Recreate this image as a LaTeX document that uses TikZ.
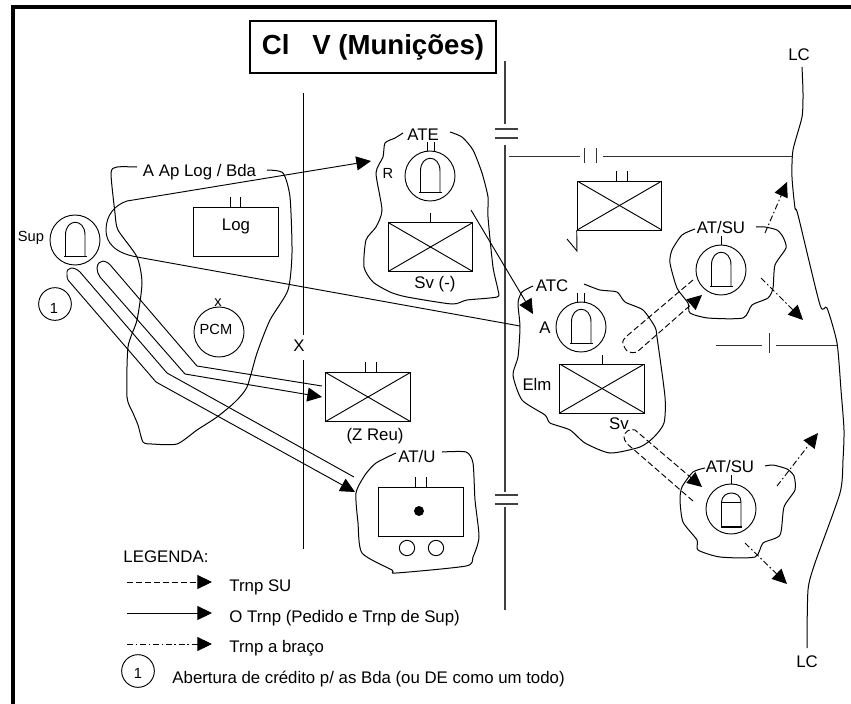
\documentclass[tikz,border=0pt]{standalone}
\usepackage{fontspec}
\setmainfont{Liberation Sans}
\usetikzlibrary{arrows.meta}
\begin{document}
\begin{tikzpicture}[
  x=0.75pt, y=-0.75pt,
  line width=0.7pt,
  font=\fontsize{12.6pt}{14pt}\selectfont,
  lbl/.style={inner sep=0pt, align=center},
  small/.style={lbl, font=\fontsize{11pt}{13pt}\selectfont},
  titlebox/.style={draw, line width=0.8pt, inner sep=0pt, minimum width=184.5pt,
    minimum height=39pt, font=\fontsize{20.7pt}{22pt}\selectfont\bfseries},
  unit/.style={draw, circle, inner sep=0pt, minimum size=37.5pt},
  numcirc/.style={draw, circle, inner sep=0pt, minimum size=24.5pt},
  wheel/.style={draw, circle, inner sep=0pt, minimum size=11.5pt},
  plainbox/.style={draw, inner sep=0pt, minimum width=63.5pt, minimum height=36.7pt},
  xbox/.style={plainbox, path picture={
    \draw (path picture bounding box.north west) -- (path picture bounding box.south east);
    \draw (path picture bounding box.north east) -- (path picture bounding box.south west);}},
  blob/.style={line width=0.75pt, smooth, tension=0.4},
  flow/.style={-{Triangle[length=11pt,width=10.5pt]}, line width=0.7pt},
  flowsu/.style={flow, dash pattern=on 4.5pt off 2.2pt},
  flowarm/.style={flow, dash pattern=on 4.5pt off 2pt on 1.2pt off 2pt},
  pics/shell/.style={code={
    \draw (-9.5,16) -- (-9.5,-5) .. controls (-9.5,-22) and (10,-22) .. (10,-5) -- (10,16);
    \draw[line width=1pt] (-11,16.5) -- (11.5,16.5);}},
  pics/shellb/.style={code={
    \draw (-9.5,18) -- (-9.5,-7) .. controls (-9,-19) and (10,-19) .. (10,-7) -- (10,18);
    \draw (-9.5,-7) -- (10,-7);
    \draw[line width=1pt] (-10,18) -- (10.5,18);}}
]
\useasboundingbox (0,0) rectangle (851,704);
% frame and title
\draw[line width=2.3pt] (13,704) -- (13,7) -- (851,7);
\node[titlebox] (title) at (373,47) {Cl\hspace{0.55em} V (Munições)};
% limits
\coordinate (xtop) at (303,93);
\coordinate (xmid) at (303,335);
\coordinate (xlow) at (303,360);
\coordinate (xend) at (303,549);
\draw (xtop) -- (xmid);
\draw (xlow) -- (xend);
\node[lbl] (xmark) at (299,346) {X};
\draw[black!75, line width=0.9pt] (505,61) -- (505,124);
\draw[black!75, line width=0.9pt] (505,145) -- (505,492);
\draw[black!75, line width=0.9pt] (505,507) -- (505,610);
\draw[black!75, line width=0.9pt] (495,129) -- (518,129) (495,138) -- (518,138);
\draw[black!75, line width=0.9pt] (495,495) -- (518,495) (495,504) -- (518,504);
% front line
\node[lbl] (lctop) at (799,55) {LC};
\node[lbl] (lcbot) at (807,662) {LC};
\draw[blob] plot coordinates {(802,67) (803,93) (802,117) (793,150) (792,177) (795,208)
  (798,215) (820,305) (827,308) (837,343) (841,390) (844,430) (843,460) (840,493)
  (815,563) (808,590) (807,648)};
% cross lines
\draw[black!80] (509,156) -- (580,156);
\draw[black!80] (603,156) -- (793,156);
\draw[black!80] (584,148) -- (584,163) (596,148) -- (596,163);
\draw[black!80] (716,345) -- (762,345);
\draw[black!80] (776,345) -- (837,345);
\draw[black!80] (769,333) -- (769,353);
% A Ap Log / Bda
\node[lbl] (aaplog) at (199.5,172) {A Ap Log / Bda};
\draw[blob] plot coordinates {(137,167) (117,167) (111,173) (115,213) (118,230) (137,257)
  (142,283) (137,320) (128,347) (127,397) (133,413) (138,425) (143,442) (152,444)
  (177,444) (197,430) (217,417) (235,402) (247,387) (257,353) (270,320) (288,290)
  (292,253) (290,197) (283,173) (267,170)};
\node[plainbox] (boxlog) at (236,231.5) {};
\node[lbl] (txtlog) at (236,226) {Log};
\draw (boxlog.north) ++(-6,0) -- ++(0,-10);
\draw (boxlog.north) ++(4,0) -- ++(0,-10);
\node[unit] (pcm) at (219,332) {};
\node[small] (txtpcm) at (216,329) {PCM};
\node[small] (txtx) at (218,303) {x};
% Sup
\node[unit] (sup) at (75,240) {};
\pic at (sup) {shell};
\node[small] (txtsup) at (31,238) {Sup};
\node[numcirc] (num1) at (55,304) {};
\node[small] (txtnum1) at (54,308) {1};
% Z Reu
\node[xbox] (boxreu) at (368,397) {};
\draw (boxreu.north) ++(-3,0) -- ++(0,-10);
\draw (boxreu.north) ++(8,0) -- ++(0,-10);
\node[lbl] (txtreu) at (375,436) {(Z Reu)};
% AT/U
\node[lbl] (txtatu) at (417,456) {AT/U};
\draw[blob] plot coordinates {(396,453) (376,463) (365,475) (356,493) (358,523) (362,553)
  (392,570) (396,573) (466,566) (473,557) (479,537) (475,500) (473,463) (466,452) (442,452)};
\node[plainbox] (boxatu) at (421,511.5) {};
\draw (boxatu.north) ++(-6,0) -- ++(0,-10);
\draw (boxatu.north) ++(5,0) -- ++(0,-10);
\node[circle, fill, inner sep=0pt, minimum size=7.5pt] (dot) at (419,511) {};
\node[wheel] (wheela) at (407,548) {};
\node[wheel] (wheelb) at (436,548) {};
% ATE
\node[lbl] (txtate) at (423,135) {ATE};
\draw[blob] plot coordinates {(403,133) (395,138) (385,143) (383,157) (376,173) (382,210)
  (376,227) (366,240) (364,267) (373,282) (390,292) (407,297) (452,304) (467,300)
  (497,297) (498,290) (493,267) (488,217) (488,197) (482,173) (473,150) (462,137) (450,132)};
\node[unit] (ate) at (430,176) {};
\pic at (ate) {shell};
\draw (ate.north) ++(-3,0) -- ++(0,-9);
\draw (ate.north) ++(4,0) -- ++(0,-9);
\node[small] (txtr) at (388,173) {R};
\node[xbox] (boxate) at (430.5,247) {};
\draw (boxate.north) -- ++(0,-9);
\node[lbl] (txtsvm) at (435,284) {Sv (-)};
% unit behind the cross line
\node[xbox] (boxflag) at (619.5,205.5) {};
\draw (boxflag.north) ++(-3.5,0) -- ++(0,-10);
\draw (boxflag.north) ++(7.5,0) -- ++(0,-10);
\draw (boxflag.south west) -- (577,251) -- (567,239);
% ATC
\node[lbl] (txtatc) at (552,286) {ATC};
\draw[blob] plot coordinates {(533,286) (522,292) (518,303) (520,327) (518,357) (513,375)
  (522,400) (545,415) (550,423) (570,430) (585,443) (610,453) (640,447) (654,437)
  (664,423) (665,397) (657,337) (655,327) (643,310) (625,302) (617,292) (600,290) (584,284)};
\node[unit] (atc) at (581,327) {};
\pic at (atc) {shell};
\draw (atc.north) ++(-4,0) -- ++(0,-9);
\draw (atc.north) ++(3,0) -- ++(0,-9);
\node[lbl] (txta) at (545,328) {A};
\node[xbox] (boxatc) at (602,388.5) {};
\draw (boxatc.north) -- ++(0,-9);
\node[lbl] (txtelm) at (537,384) {Elm};
\node[lbl] (txtsv) at (619,424) {Sv};
% AT/SU upper
\node[lbl] (txtsua) at (721,227) {AT/SU};
\draw[blob] plot coordinates {(695,229) (682,235) (672,250) (670,263) (677,288) (688,303)
  (690,313) (708,318) (743,318) (752,305) (768,298) (773,288) (775,265) (786,248)
  (783,237) (777,230) (765,227) (756,227)};
\node[unit] (sua) at (721,270) {};
\pic at (sua) {shell};
\draw (sua.north) -- ++(0,-9);
% AT/SU lower
\node[lbl] (txtsub) at (730,466) {AT/SU};
\draw[blob] plot coordinates {(705,468) (693,472) (682,487) (680,500) (683,522) (697,540)
  (698,550) (720,557) (755,557) (763,543) (780,535) (784,507) (795,490) (794,476)
  (787,469) (773,465) (765,466)};
\node[unit] (sub) at (731,509) {};
\pic at (sub) {shellb};
\draw (sub.north) -- ++(0,-9);
% end points of the flows
\coordinate (ateIn) at (371,161);
\coordinate (supT) at (127,201);
\coordinate (supB) at (137,257);
\coordinate (atcIn) at (520,326);
\coordinate (ateOut) at (471,210);
\coordinate (atcTip) at (533,314);
\coordinate (reuA) at (197,366);
\coordinate (reuB) at (185,374);
\coordinate (reuEnd) at (322,386);
\coordinate (reuTip) at (322,397);
\coordinate (atuA) at (167,373);
\coordinate (atuB) at (156,382);
\coordinate (atuEnd) at (354,477);
\coordinate (atuTip) at (355,492);
\coordinate (atcUp) at (628,335);
\coordinate (atcLow) at (637,352);
\coordinate (suaEnd) at (693,280);
\coordinate (suaTip) at (702,295);
\coordinate (svUp) at (635,430);
\coordinate (svLow) at (632,448);
\coordinate (subTip) at (702,487);
\coordinate (subEnd) at (693,501);
% transport flows
\draw[flow] (atcIn) -- (supB) .. controls (115,253) and (106,243) .. (106,230)
  .. controls (106,215) and (115,205) .. (supT) -- (ateIn);
\draw[flow] (ateOut) -- (atcTip);
\draw (reuEnd) -- (reuA) -- (112,267) .. controls (106,259) and (98,259) .. (97,268)
  .. controls (97,271) and (98,274) .. (100,277) -- (reuB);
\draw[flow] (reuB) -- (reuTip);
\draw (atuEnd) -- (atuA) -- (80,272) .. controls (74,266) and (66,267) .. (67,274)
  .. controls (67,277) and (67,278) .. (68,280) -- (atuB);
\draw[flow] (atuB) -- (atuTip);
\draw[flowsu] (suaEnd) -- (atcUp) .. controls (624,339) and (622,341) .. (623,343)
  .. controls (624,347) and (626,351) .. (629,352) .. controls (632,353) and (634,353) .. (atcLow)
  -- (suaTip);
\draw[flowsu] (subEnd) -- (svLow) .. controls (628,445) and (624,441) .. (624,437)
  .. controls (624,432) and (630,428) .. (svUp) -- (subTip);
% carried by arm
\coordinate (armA) at (765,233);
\coordinate (armATip) at (787,182);
\coordinate (armB) at (761,278);
\coordinate (armBTip) at (803,320);
\coordinate (armC) at (777,486);
\coordinate (armCTip) at (818,433);
\coordinate (armD) at (745,543);
\coordinate (armDTip) at (787,584);
\draw[flowarm] (armA) -- (armATip);
\draw[flowarm] (armB) -- (armBTip);
\draw[flowarm] (armC) -- (armCTip);
\draw[flowarm] (armD) -- (armDTip);
% legend
\node[lbl, anchor=west] (legtitle) at (123,557) {LEGENDA:};
\coordinate (legA) at (127,582);
\coordinate (legATip) at (212,582);
\coordinate (legB) at (127,613);
\coordinate (legBTip) at (212,613);
\coordinate (legC) at (127,644);
\coordinate (legCTip) at (212,644);
\draw[flowsu] (legA) -- (legATip);
\draw[flow] (legB) -- (legBTip);
\draw[flowarm] (legC) -- (legCTip);
\node[lbl, anchor=west] (legsu) at (229,587) {Trnp SU};
\node[lbl, anchor=west] (legtrnp) at (229,618) {O Trnp (Pedido e Trnp de Sup)};
\node[lbl, anchor=west] (legarm) at (229,648) {Trnp a braço};
\node[numcirc] (legnum) at (138,671) {};
\node[small] (txtlegnum) at (138,673) {1};
\node[lbl, anchor=west] (legcred) at (172,679) {Abertura de crédito p/ as Bda (ou DE como um todo)};
\end{tikzpicture}
\end{document}
